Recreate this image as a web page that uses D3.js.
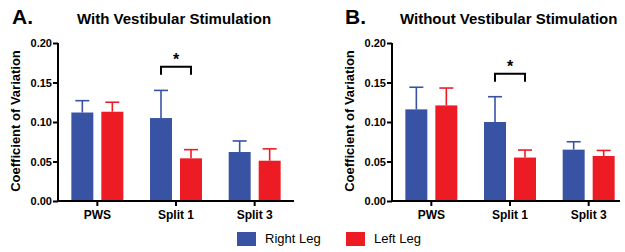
<!DOCTYPE html>
<html>
<head>
<meta charset="utf-8">
<script src="https://cdn.jsdelivr.net/npm/d3@7"></script>
<style>
  body { margin: 0; background: #fff; }
  text { font-family: "Liberation Sans", Arial, sans-serif; }
</style>
</head>
<body>
<div id="chart"></div>
<script>
// data
const groups = ["PWS", "Split 1", "Split 3"];
const legs = ["Right Leg", "Left Leg"];
const legColors = ["#3953a4", "#ed1c24"];
const yTicks = [0, 0.05, 0.10, 0.15, 0.20];

// panel A: with vestibular stimulation
const withMean  = [[0.112, 0.113], [0.105, 0.054], [0.062, 0.051]];
const withErr   = [[0.015, 0.012], [0.035, 0.011], [0.014, 0.015]];
// panel B: without vestibular stimulation
const withoutMean = [[0.116, 0.121], [0.100, 0.055], [0.065, 0.057]];
const withoutErr  = [[0.028, 0.022], [0.032, 0.0095], [0.010, 0.007]];

// significance brackets: group, bracket height
const withSig = {group: "Split 1", y: 0.170};
const withoutSig = {group: "Split 1", y: 0.161};

const W = 625, H = 252;
const svg = d3.select("#chart").append("svg")
    .attr("width", W).attr("height", H);

const y = d3.scaleLinear().domain([0, 0.2]).range([201, 43]);

function drawPanel(opt) {
    let g = svg.append("g");
    let x0 = d3.scaleBand().domain(groups).range([opt.left, opt.right]).padding(0);
    let x1 = d3.scaleBand().domain(legs).range([0, x0.bandwidth()])
        .paddingInner(0.267).paddingOuter(0.445);

    // bars
    groups.forEach((grp, gi) => {
        legs.forEach((leg, li) => {
            let bx = x0(grp) + x1(leg);
            let m = opt.mean[gi][li], e = opt.err[gi][li];
            let cx = bx + x1.bandwidth() / 2;
            // error bar (upper only)
            g.append("line")
                .attr("x1", cx).attr("x2", cx)
                .attr("y1", y(m)).attr("y2", y(m + e))
                .attr("stroke", legColors[li]).attr("stroke-width", 1.6);
            g.append("line")
                .attr("x1", cx - 7).attr("x2", cx + 7)
                .attr("y1", y(m + e)).attr("y2", y(m + e))
                .attr("stroke", legColors[li]).attr("stroke-width", 1.6);
            g.append("rect")
                .attr("x", bx).attr("y", y(m))
                .attr("width", x1.bandwidth()).attr("height", y(0) - y(m))
                .attr("fill", legColors[li]);
        });
    });

    // y axis
    let yAxis = g.append("g")
        .attr("transform", "translate(" + opt.left + ",0)")
        .call(d3.axisLeft(y).tickValues(yTicks).tickFormat(d3.format(".2f")).tickSize(5).tickSizeOuter(0));
    yAxis.select(".domain").attr("stroke", "#000").attr("stroke-width", 2)
        .attr("d", "M0," + y(0.2) + "V" + (y(0) + 1));
    yAxis.selectAll(".tick line").attr("stroke-width", 2);
    yAxis.selectAll(".tick text")
        .attr("x", -6)
        .style("font-size", "11px").style("font-weight", "bold").attr("fill", "#000");

    // x axis
    let xAxis = g.append("g")
        .attr("transform", "translate(0," + y(0) + ")")
        .call(d3.axisBottom(x0).tickSize(5).tickSizeOuter(0));
    xAxis.select(".domain").attr("stroke", "#000").attr("stroke-width", 2)
        .attr("d", "M" + (opt.left - 1) + ",0H" + opt.axisEnd);
    xAxis.selectAll(".tick line").attr("stroke-width", 2);
    xAxis.selectAll(".tick text")
        .attr("y", 9)
        .style("font-size", "12px").style("font-weight", "bold").attr("fill", "#000");

    // significance bracket
    let gx = x0(opt.sig.group);
    let bx1 = gx + x1(legs[0]) + x1.bandwidth() / 2;
    let bx2 = gx + x1(legs[1]) + x1.bandwidth() / 2;
    let by = y(opt.sig.y);
    g.append("path")
        .attr("d", "M" + bx1 + "," + (by + 8) + "V" + by + "H" + bx2 + "V" + (by + 8))
        .attr("fill", "none").attr("stroke", "#000").attr("stroke-width", 2);
    g.append("text")
        .attr("x", (bx1 + bx2) / 2).attr("y", by - 2)
        .attr("text-anchor", "middle")
        .style("font-size", "16px").style("font-weight", "bold")
        .text("*");

    // panel letter and title
    g.append("text")
        .attr("x", opt.letterX).attr("y", 24)
        .style("font-size", "21px").style("font-weight", "bold")
        .text(opt.letter);
    g.append("text")
        .attr("x", opt.titleX).attr("y", 24)
        .style("font-size", "15px").style("font-weight", "bold")
        .text(opt.title);

    // y label
    g.append("text")
        .attr("transform", "translate(" + opt.yLabelX + "," + 121 + ") rotate(-90)")
        .attr("text-anchor", "middle")
        .style("font-size", "13px").style("font-weight", "bold")
        .text("Coefficient of Variation");
}

drawPanel({
    left: 58, right: 294, axisEnd: 294,
    mean: withMean, err: withErr, sig: withSig,
    letter: "A.", letterX: 12, title: "With Vestibular Stimulation", titleX: 77,
    yLabelX: 20
});
drawPanel({
    left: 392, right: 628, axisEnd: 620,
    mean: withoutMean, err: withoutErr, sig: withoutSig,
    letter: "B.", letterX: 345, title: "Without Vestibular Stimulation", titleX: 400,
    yLabelX: 354
});

// legend
const legendX = [237, 346];
legs.forEach((leg, i) => {
    svg.append("rect")
        .attr("x", legendX[i]).attr("y", 232)
        .attr("width", 19).attr("height", 14)
        .attr("fill", legColors[i]);
    svg.append("text")
        .attr("x", legendX[i] + 28).attr("y", 243)
        .style("font-size", "13px")
        .text(leg);
});
</script>
</body>
</html>
